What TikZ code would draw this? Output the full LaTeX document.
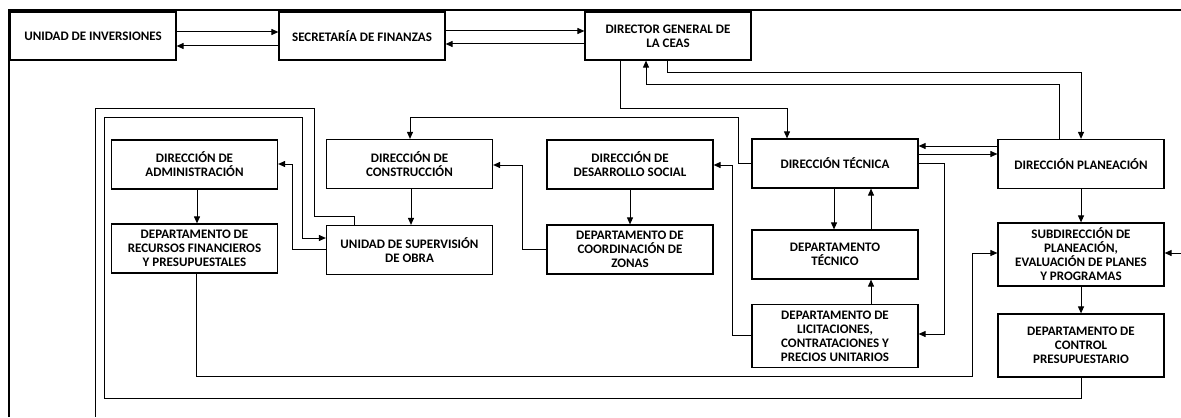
\documentclass[tikz,border=0pt]{standalone}
\usepackage{fontspec}
\setmainfont{Carlito}
\usetikzlibrary{arrows.meta}

\begin{document}
\begin{tikzpicture}[x=0.5pt,y=-0.5pt,
  box/.style={draw,line width=0.6pt,minimum width=83pt,minimum height=24.5pt,inner sep=1pt,align=center,font=\bfseries\fontsize{6.5}{7}\selectfont},
  tall/.style={box,minimum height=31.5pt},
  arr/.style={line width=0.5pt,-{Triangle[length=3.5pt,width=3pt]}},
  ln/.style={line width=0.5pt}]
\useasboundingbox (0,0) rectangle (1181,417);
\draw[line width=1.25pt] (9,417) -- (9,10) -- (1181,10);

\node[box,minimum height=24pt] (ui) at (93,36) {UNIDAD DE INVERSIONES};
\node[box,minimum height=24pt] (sf) at (362,36) {SECRETARÍA DE FINANZAS};
\node[box,minimum height=24pt] (dg) at (668,36) {DIRECTOR GENERAL DE\\LA CEAS};
\node[box] (da) at (194.5,164.5) {DIRECCIÓN DE\\ADMINISTRACIÓN};
\node[box] (rf) at (194.5,248.5) {DEPARTAMENTO DE\\RECURSOS FINANCIEROS\\Y PRESUPUESTALES};
\node[box] (dc) at (409.5,164) {DIRECCIÓN DE\\CONSTRUCCIÓN};
\node[box] (us) at (409.5,250) {UNIDAD DE SUPERVISIÓN\\DE OBRA};
\node[box] (dds) at (630,164.5) {DIRECCIÓN DE\\DESARROLLO SOCIAL};
\node[box] (cz) at (630,249.5) {DEPARTAMENTO DE\\COORDINACIÓN DE\\ZONAS};
\node[box] (dt) at (835,163.5) {DIRECCIÓN TÉCNICA};
\node[box] (dtc) at (835,254.5) {DEPARTAMENTO\\TÉCNICO};
\node[tall] (lic) at (835,336) {DEPARTAMENTO DE\\LICITACIONES,\\CONTRATACIONES Y\\PRECIOS UNITARIOS};
\node[box] (dp) at (1081,164) {DIRECCIÓN PLANEACIÓN};
\node[tall] (sp) at (1081,254.5) {SUBDIRECCIÓN DE\\PLANEACIÓN,\\EVALUACIÓN DE PLANES\\Y PROGRAMAS};
\node[tall] (cp) at (1081,345.5) {DEPARTAMENTO DE\\CONTROL\\PRESUPUESTARIO};
\coordinate (re) at (1181,253);
\coordinate (be) at (95,417);

\draw[arr] (ui.east |- 0,32) -- (sf.west |- 0,32);
\draw[arr] (sf.west |- 0,46) -- (ui.east |- 0,46);
\draw[arr] (sf.east |- 0,31) -- (dg.west |- 0,31);
\draw[arr] (dg.west |- 0,44) -- (sf.east |- 0,44);
\draw[arr] (620,0 |- dg.south) |- (787,108) -- (787,0 |- dt.north);
\draw[arr] (667,0 |- dg.south) |- (1081,73) -- (dp.north);
\draw[arr] (1059,0 |- dp.north) |- (646,85) -- (646,0 |- dg.south);
\draw[arr] (dt.west |- 0,163) -| (738,117) -| (410,0 |- dc.north);
\draw[arr] (dp.west |- 0,146) -- (dt.east |- 0,146);
\draw[arr] (dt.east |- 0,154) -- (dp.west |- 0,154);
\draw[arr] (dt.east |- 0,163) -| (944,334) -- (lic.east |- 0,334);
\draw[arr] (834,0 |- dt.south) -- (834,0 |- dtc.north);
\draw[arr] (871,0 |- dtc.north) -- (871,0 |- dt.south);
\draw[arr] (871,0 |- lic.north) -- (871,0 |- dtc.south);
\draw[arr] (lic.west |- 0,335) -| (732,165) -- (dds.east |- 0,165);
\draw[arr] (dds.south) -- (cz.north);
\draw[arr] (cz.west |- 0,249) -| (522,165) -- (dc.east |- 0,165);
\draw[arr] (411,0 |- dc.south) -- (411,0 |- us.north);
\draw[arr] (us.west |- 0,249) -| (292,164) -- (da.east |- 0,164);
\draw[arr] (197,0 |- da.south) -- (197,0 |- rf.north);
\draw[arr] (196,0 |- rf.south) |- (972,376) |- (sp.west |- 0,253);
\draw[arr] (dp.south) -- (sp.north);
\draw[arr] (sp.south) -- (cp.north);
\draw[arr] (cp.south) |- (104,398) |- (302,117) |- (us.west |- 0,238);
\draw[ln] (354,0 |- us.north) |- (314,216) |- (95,108) -- (be);
\draw[arr] (re) -- (sp.east |- re);
\end{tikzpicture}
\end{document}
